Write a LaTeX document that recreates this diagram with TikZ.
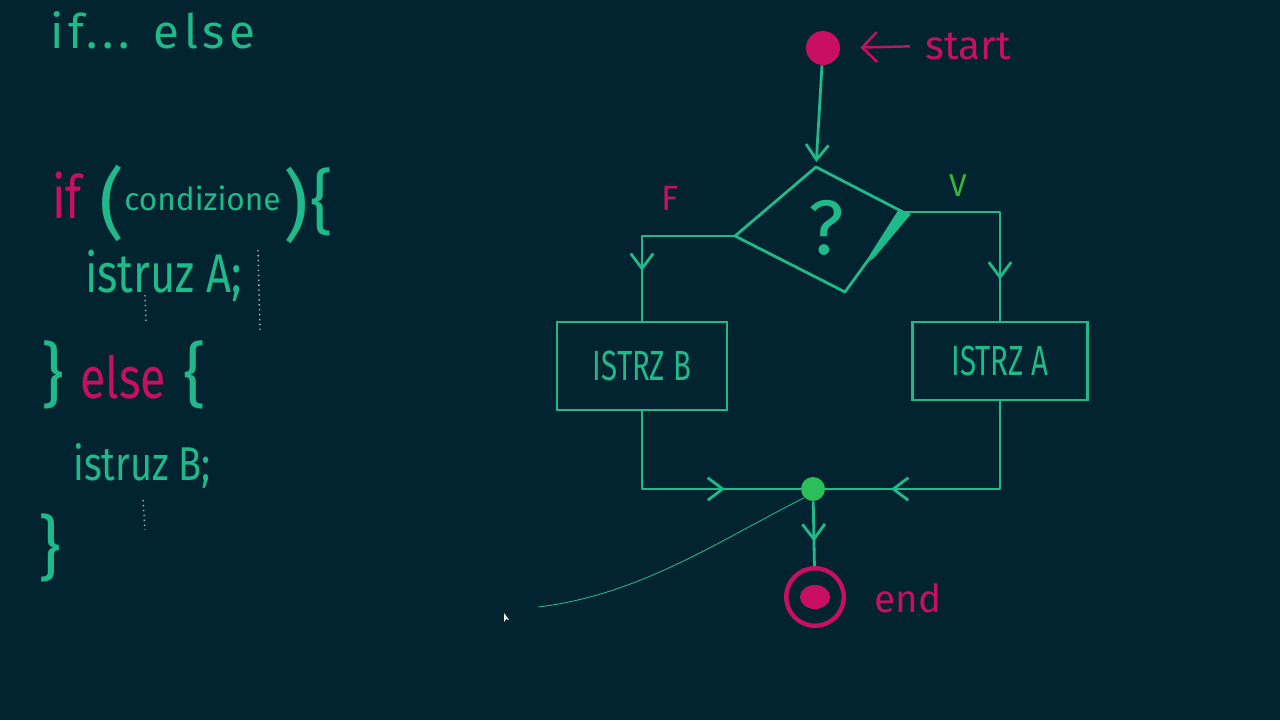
\documentclass[tikz,border=0pt]{standalone}
\usepackage{fontspec}
\setmainfont{Fira Sans}
\newfontfamily\handcode[FakeStretch=0.8]{Fira Sans}
\newfontfamily\handbox[FakeStretch=0.7]{Fira Sans}
\usetikzlibrary{arrows.meta, positioning, decorations.markings}
\definecolor{bgnavy}{HTML}{022431}
\definecolor{chalkgreen}{HTML}{1FB98A}
\definecolor{chalkmag}{HTML}{C80F64}
\definecolor{dotgreen}{HTML}{2ABF5A}
\definecolor{vgreen}{HTML}{36B83A}

\begin{document}
\begin{tikzpicture}[x=0.02cm, y=-0.02cm,
  flow/.style={chalkgreen, line width=1.6pt, line join=round},
  midarr/.style={postaction={decorate}, decoration={markings, mark=at position #1 with {\arrow{Straight Barb[length=3mm, width=4.5mm]}}}},
  instr/.style={rectangle, draw=chalkgreen, line width=1.6pt, text=chalkgreen, font=\handbox\fontsize{24}{24}\selectfont, inner sep=0pt},
  codetxt/.style={text=chalkgreen, font=\handcode\fontsize{#1}{#1}\selectfont, inner sep=0pt},
  brace/.style={text=chalkgreen, font=\fontsize{#1}{#1}\selectfont, inner sep=0pt},
  lbl/.style={text=chalkmag, font=\fontsize{#1}{#1}\selectfont, inner sep=0pt},
]
  \fill[bgnavy] (0,0) rectangle (1280,720);
  \useasboundingbox (0,0) rectangle (1280,720);

  % title
  \node[text=chalkgreen, inner sep=0pt, anchor=base west, font={\fontsize{27}{27}\selectfont\addfontfeature{LetterSpace=10}}] (title) at (50,48) {if... else};

  % code on the left
  \node[codetxt=34, text=chalkmag, anchor=base west] (ifkw) at (52,218) {if};
  \node[brace=44] (lpar) at (112,203) {(};
  \node[brace=18, anchor=base west] (cond) at (124,210) {condizione};
  \node[brace=44] (rpar) at (296,205) {)};
  \node[brace=40] (ifopen) at (322,202) {\{};
  \node[codetxt=31, anchor=base west] (istrAcode) at (85,292) {istruz A;};
  \node[brace=40] (ifclose) at (53,375) {\}};
  \node[codetxt=33, text=chalkmag, anchor=base west] (elsekw) at (80,398) {else};
  \node[brace=40] (elseopen) at (195,375) {\{};
  \node[codetxt=27, anchor=base west] (istrBcode) at (73,480) {istruz B;};
  \node[brace=40] (elseclose) at (50,548) {\}};
  \draw[chalkgreen!60, dotted, line width=0.8pt] (145,295) -- (146,322);
  \draw[chalkgreen!50, dotted, line width=0.8pt] (258,250) -- (260,330);
  \draw[chalkgreen!60, dotted, line width=0.8pt] (143,500) -- (145,530);

  % flowchart
  \node[circle, fill=chalkmag, minimum size=0.68cm, inner sep=0pt] (startdot) at (823,48) {};
  \node[lbl=23] (startlbl) at (968,46) {start};
  \draw[chalkmag, line width=1.4pt, shorten <=0.3cm, shorten >=0.4cm, -{Straight Barb[length=3mm, width=6mm]}] (startlbl.west) -- (startdot.east);

  \coordinate (dtop) at (816,167);
  \coordinate (dright) at (903,212);
  \coordinate (dbot) at (845,292);
  \coordinate (dleft) at (735,236);
  \draw[flow] (dtop) -- (dright) -- (dbot) -- (dleft) -- cycle;
  % heavy stroke on the lower right edge
  \fill[chalkgreen] (899,209) -- (911,214) -- (874,258) -- (866,263) -- (871,253) -- cycle;
  \node[brace=44] (qmark) at (826,228) {?};
  \draw[flow, shorten >=0.1cm, -{Straight Barb[length=3mm, width=4.5mm]}] (startdot) -- (dtop);

  \node[lbl=20] (flbl) at (670,198) {F};
  \node[lbl=18, text=vgreen] (vlbl) at (958,186) {V};

  \node[instr, minimum width=3.4cm, minimum height=1.76cm] (istrB) at (642,366) {ISTRZ B};
  \node[instr, minimum width=3.5cm, minimum height=1.56cm] (istrA) at (1000,361) {ISTRZ A};

  \node[circle, fill=dotgreen, minimum size=0.48cm, inner sep=0pt] (junct) at (813,489) {};
  \node[circle, draw=chalkmag, line width=2.5pt, minimum size=1.15cm, inner sep=0pt] (endpt) at (815,597) {};
  \fill[chalkmag] (endpt.center) ellipse [x radius=0.3cm, y radius=0.24cm];
  \node[lbl=22] (endlbl) at (908,598) {end};

  \draw[flow, midarr=0.72] (dleft) -| (istrB.north);
  \draw[flow, midarr=0.8] (dright) -| (istrA.north);
  \draw[flow, midarr=0.68] (istrB.south) |- (junct.west);
  \draw[flow, midarr=0.75] (istrA.south) |- (junct.east);
  \draw[flow, midarr=0.62] (junct) -- (endpt);

  % stray pen stroke and pointer
  \coordinate (strayend) at (538,607);
  \draw[chalkgreen, line width=0.5pt] (junct.south west) .. controls (720,540) and (640,595) .. (strayend);
  \fill[white] (504,613) -- (504,622) -- (506,619) -- (509,620) -- cycle;
\end{tikzpicture}
\end{document}
